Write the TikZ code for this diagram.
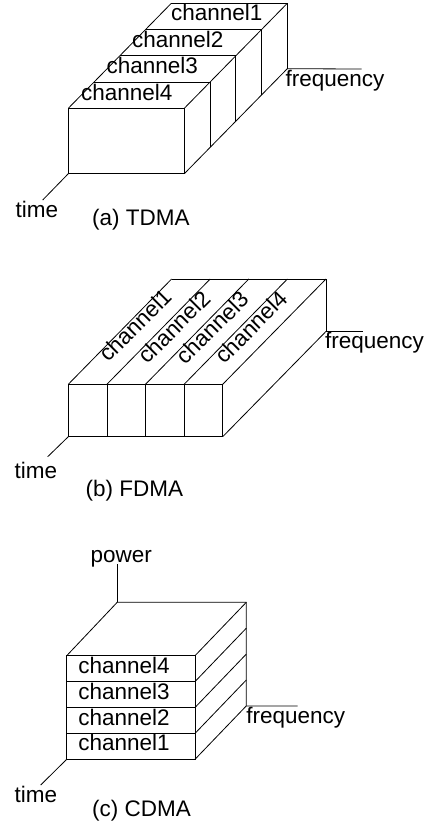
\documentclass[tikz,border=0pt]{standalone}
\usepackage{fontspec}
\setmainfont{Liberation Sans}
\usetikzlibrary{calc}
\begin{document}
\begin{tikzpicture}[x=1pt,y=-1pt,
  ln/.style={line width=0.8pt, black},
  lbl/.style={inner sep=0pt, anchor=base west, font=\fontsize{22.5}{26}\selectfont},
  rlbl/.style={inner sep=0pt, anchor=center, rotate=45, font=\fontsize{22.5}{26}\selectfont}]
\useasboundingbox (0,0) rectangle (433,823);

% ================= (a) TDMA =================
\coordinate (ta) at (68.3,108.3);
\coordinate (tb) at (184.3,108.3);
\coordinate (tc) at (184.3,173.7);
\coordinate (td) at (68.3,173.7);
\draw[ln] (ta) rectangle (tc);
\foreach \k in {1,2,3,4}{
  \draw[ln] ($(ta)+\k*(25.75,-26.25)$) -- ($(tb)+\k*(25.75,-26.25)$);
  \draw[ln] ($(tb)+\k*(25.75,-26.25)$) -- ($(tc)+\k*(25.75,-26.25)$);
}
\coordinate (tA) at ($(ta)+4*(25.75,-26.25)$);
\coordinate (tB) at ($(tb)+4*(25.75,-26.25)$);
\coordinate (tC) at ($(tc)+4*(25.75,-26.25)$);
\draw[ln] (ta) -- (tA);
\draw[ln] (tb) -- (tB);
\draw[ln] (tc) -- (tC);
\coordinate (tfreq) at (361.7,69);
\draw[ln] (tC) -- (tfreq);
\coordinate (ttime) at (42.7,200);
\draw[ln] (td) -- (ttime);
\node[lbl] (tch1) at (170.8,20.7) {channel1};
\node[lbl] (tch2) at (131.8,47.7) {channel2};
\node[lbl] (tch3) at (106.4,73.3) {channel3};
\node[lbl] (tch4) at (80.8,100) {channel4};
\node[lbl] (tfl) at (285.5,86.3) {frequency};
\node[lbl] (ttl) at (15.5,217.3) {time};
\node[lbl] (tcap) at (92,225) {(a) TDMA};

% ================= (b) FDMA =================
\coordinate (fa) at (68.3,384.3);
\coordinate (fb) at (222.7,384.3);
\coordinate (fc) at (222.7,436.7);
\coordinate (fd) at (68.3,436.7);
\draw[ln] (fa) rectangle (fc);
\foreach \k in {0,1,2,3,4}{
  \draw[ln] ($(fa)+\k*(38.6,0)$) -- ($(fa)+\k*(38.6,0)+(103.3,-105.3)$);
  \draw[ln] ($(fa)+\k*(38.6,0)$) -- ($(fd)+\k*(38.6,0)$);
}
\coordinate (fA) at ($(fa)+(103.3,-105.3)$);
\coordinate (fB) at ($(fb)+(103.3,-105.3)$);
\coordinate (fC) at ($(fc)+(103.3,-105.3)$);
\draw[ln] (fA) -- (fB) -- (fC);
\draw[ln] (fc) -- (fC);
\coordinate (ffreq) at (363.3,331.4);
\draw[ln] (fC) -- (ffreq);
\coordinate (ftime) at (47.7,456.7);
\draw[ln] (fd) -- (ftime);
\node[rlbl] (fch1) at (135.5,325) {channel1};
\node[rlbl] (fch2) at (174,327) {channel2};
\node[rlbl] (fch3) at (212.5,327.5) {channel3};
\node[rlbl] (fch4) at (251,327) {channel4};
\node[lbl] (ffl) at (325,348.8) {frequency};
\node[lbl] (ftl) at (14.5,478.3) {time};
\node[lbl] (fcap) at (85.5,496) {(b) FDMA};

% ================= (c) CDMA =================
\coordinate (ca) at (66.7,655.7);
\coordinate (cb) at (195,655.7);
\coordinate (cc) at (195,759.3);
\coordinate (cd) at (66.7,759.3);
\draw[ln] (ca) rectangle (cc);
\foreach \k in {1,2,3}{
  \draw[ln] ($(ca)+\k*(0,25.9)$) -- ($(cb)+\k*(0,25.9)$);
}
\foreach \k in {0,1,2,3,4}{
  \draw[ln] ($(cb)+\k*(0,25.9)$) -- ($(cb)+\k*(0,25.9)+(51.3,-53.4)$);
}
\coordinate (cA) at ($(ca)+(50.5,-53.4)$);
\coordinate (cB) at ($(cb)+(51.3,-53.4)$);
\coordinate (cC) at ($(cc)+(51.3,-53.4)$);
\draw[ln] (ca) -- (cA) -- (cB) -- (cC);
\coordinate (cfreq) at (297.7,705.9);
\draw[ln] (cC) -- (cfreq);
\coordinate (cpow) at (117.2,564.3);
\draw[ln] (cA) -- (cpow);
\coordinate (ctime) at (40.7,785);
\draw[ln] (cd) -- (ctime);
\node[lbl] (cpl) at (90.3,562.3) {power};
\node[lbl] (cch4) at (78.2,673.3) {channel4};
\node[lbl] (cch3) at (78.2,699) {channel3};
\node[lbl] (cch2) at (78.2,725) {channel2};
\node[lbl] (cch1) at (78.2,750.7) {channel1};
\node[lbl] (cfl) at (246.2,723.5) {frequency};
\node[lbl] (ctl) at (14.5,802.7) {time};
\node[lbl] (ccap) at (92,816.5) {(c) CDMA};
\end{tikzpicture}
\end{document}
